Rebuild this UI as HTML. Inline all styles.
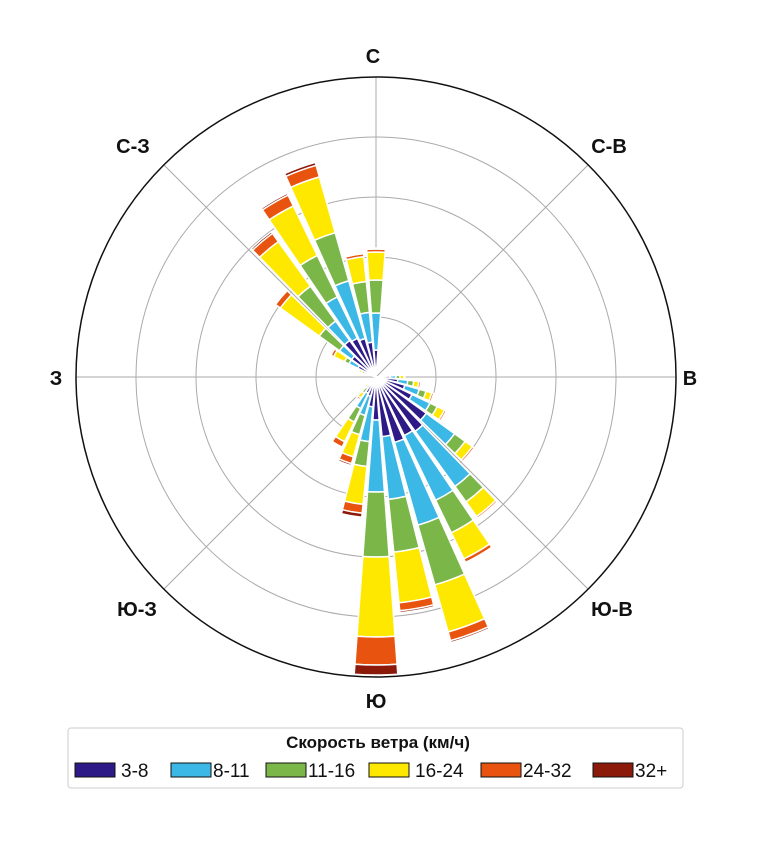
<!DOCTYPE html>
<html><head><meta charset="utf-8"><style>
body{margin:0;background:#fff;width:768px;height:839px;overflow:hidden;font-family:"Liberation Sans",sans-serif}
</style></head><body>
<svg id="s" width="768" height="839" xmlns="http://www.w3.org/2000/svg">
<g id="grid" fill="none" stroke="#aaa" stroke-width="1">
<circle cx="376" cy="377" r="60"/><circle cx="376" cy="377" r="120"/><circle cx="376" cy="377" r="180"/><circle cx="376" cy="377" r="240"/>
<line x1="76" y1="377" x2="676" y2="377"/><line x1="376" y1="77" x2="376" y2="677"/>
<line x1="164" y1="165" x2="588" y2="589"/><line x1="588" y1="165" x2="164" y2="589"/>
</g>
<g id="bars"></g>
<circle cx="376" cy="377" r="300" fill="none" stroke="#111" stroke-width="1.5"/>
<g font-weight="bold" font-size="20" text-anchor="middle" fill="#111">
<text x="373" y="63">С</text><text x="609" y="153">С-В</text><text x="690" y="385">В</text>
<text x="612" y="616">Ю-В</text><text x="376" y="708">Ю</text><text x="137" y="616">Ю-З</text>
<text x="56" y="385">З</text><text x="133" y="153">С-З</text>
</g>
<rect x="68" y="728" width="615" height="60" rx="3" fill="#fff" stroke="#ccc"/>
<text x="378" y="748" font-weight="bold" font-size="17" text-anchor="middle" fill="#111">Скорость ветра (км/ч)</text>
<g font-size="19" fill="#111" stroke="#111" stroke-width="1">
<rect x="75" y="763" width="40" height="14" fill="#2e1a87"/>
<rect x="171" y="763" width="40" height="14" fill="#3cb8e6"/>
<rect x="266" y="763" width="40" height="14" fill="#7ab648"/>
<rect x="369" y="763" width="40" height="14" fill="#ffe800"/>
<rect x="481" y="763" width="40" height="14" fill="#e8540f"/>
<rect x="593" y="763" width="40" height="14" fill="#8b1a0a"/>
</g>
<g font-size="19" fill="#111">
<text x="121" y="777">3-8</text><text x="213" y="777">8-11</text><text x="308" y="777">11-16</text>
<text x="415" y="777">16-24</text><text x="523" y="777">24-32</text><text x="635" y="777">32+</text>
</g>
</svg>
<script>
var cx=376,cy=377;
var cols=["#2e1a87","#3cb8e6","#7ab648","#ffe800","#e8540f","#8b1a0a"];
var d={
0:[27,64,97,125,128,129],350:[35,65,96,121,124,125],340:[40,100,150,208,220,223],
330:[43,89,135,190,202,204],320:[45,69,112,167,177,179],310:[30,45,70,118,124,125],
300:[20,30,35,47,50,51],290:[8,12,15,18,19,19],
180:[43,115,180,260,288,298],170:[60,123,176,227,235,237],160:[68,154,216,265,274,276],
150:[65,137,173,202,206,207],140:[67,135,154,172,174,175],130:[62,97,110,119,121,121],
120:[40,60,68,76,78,78],110:[30,45,52,58,60,60],100:[22,32,38,43,45,45],90:[14,20,24,28,29,29],
190:[30,65,90,128,137,141],200:[20,40,60,83,90,92],210:[18,35,50,72,78,79],220:[8,14,20,26,28,28],230:[4,8,10,14,15,15]
};
function pt(a,r){var t=a*Math.PI/180;return [cx+r*Math.sin(t),cy-r*Math.cos(t)];}
var g=document.getElementById('bars'),h='';
for(var k in d){var a=+k,v=d[k],r0=0;
for(var i=0;i<6;i++){var r1=v[i];if(r1-r0<0.5){r0=r1;continue;}
var a0=a-4.2,a1=a+4.2;var p1=pt(a0,r0),p2=pt(a0,r1),p3=pt(a1,r1),p4=pt(a1,r0);
h+='<path d="M'+p1+' L'+p2+' A'+r1+' '+r1+' 0 0 1 '+p3+' L'+p4+(r0>0?' A'+r0+' '+r0+' 0 0 0 '+p1:'')+' Z" fill="'+cols[i]+'" stroke="#fff" stroke-width="1.5"/>';
r0=r1;}}
g.innerHTML=h;
</script>
</body></html>
